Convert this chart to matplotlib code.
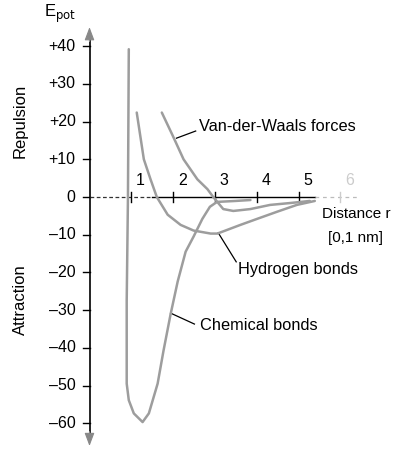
import matplotlib
matplotlib.use("Agg")
import matplotlib.pyplot as plt

plt.rcParams['font.family'] = ['Liberation Sans', 'DejaVu Sans']

# ---- data ----
y_ticks = [40, 30, 20, 10, 0, -10, -20, -30, -40, -50, -60]
y_tick_labels = ["+40", "+30", "+20", "+10", "0", "\u201310", "\u201320", "\u201330", "\u201340", "\u201350", "\u201360"]
x_ticks = [1, 2, 3, 4, 5, 6]
x_tick_labels = ["1", "2", "3", "4", "5", "6"]

chem_r = [0.94, 0.93, 0.92, 0.89, 0.89, 0.94, 1.06, 1.27, 1.42, 1.63, 1.77, 1.94, 2.11, 2.30, 2.49, 2.70, 2.88, 3.05, 3.49, 3.85]
chem_e = [39.2, 19.7, 0.0, -27.6, -49.5, -53.9, -57.4, -59.7, -57.4, -49.5, -40.8, -31.1, -22.4, -14.5, -10.5, -5.8, -2.6, -1.3, -1.05, -0.8]

hyd_r = [1.13, 1.30, 1.46, 1.61, 1.87, 2.18, 2.49, 2.90, 3.06, 3.61, 4.01, 4.49, 4.96, 5.39]
hyd_e = [22.4, 10.0, 4.7, 0.0, -4.7, -7.4, -8.9, -9.7, -9.7, -7.4, -5.8, -3.9, -2.1, -1.05]

vdw_r = [1.73, 1.99, 2.25, 2.58, 2.82, 2.96, 3.20, 3.44, 3.85, 4.32, 4.80, 5.27]
vdw_e = [22.4, 16.3, 10.0, 4.7, 2.1, 0.0, -3.2, -3.7, -3.2, -2.1, -1.6, -1.05]

# ---- figure ----
fig = plt.figure(figsize=(4.03, 4.55), dpi=100)
ax = fig.add_axes([0, 0, 1, 1])
ax.set_xlim(-89.5 / 41.8, (403 - 89.5) / 41.8)
ax.set_ylim(-258 / 3.77, 197 / 3.77)
for s in ax.spines.values():
    s.set_visible(False)
ax.set_xticks([])
ax.set_yticks([])

curve_col = '#9d9d9d'
for r, e in [(chem_r, chem_e), (hyd_r, hyd_e), (vdw_r, vdw_e)]:
    ax.plot(r, e, color=curve_col, lw=1.8, solid_capstyle='round', zorder=3)

# y axis with arrows
ax.plot([0, 0], [-64.5, 43.5], color='black', lw=1.2, zorder=2)
ax.annotate('', xy=(0, 45.8), xytext=(0, 40.5),
            arrowprops=dict(arrowstyle='-|>,head_length=0.8,head_width=0.3',
                            color='#888888', lw=0.8), zorder=4)
ax.annotate('', xy=(0, -66.8), xytext=(0, -61.5),
            arrowprops=dict(arrowstyle='-|>,head_length=0.8,head_width=0.3',
                            color='#888888', lw=0.8), zorder=4)
for v, lab in zip(y_ticks, y_tick_labels):
    ax.plot([-0.15, 0], [v, v], color='black', lw=1.0)
    ax.text(-0.33, v, lab, ha='right', va='center', fontsize=11.5)

# x axis
ax.plot([0, 1.5], [0, 0], color='#333333', lw=0.9, ls=(0, (3, 2)), zorder=2)
ax.plot([1.5, 5.4], [0, 0], color='black', lw=1.0, zorder=2)
ax.plot([5.4, 6.4], [0, 0], color='#bbbbbb', lw=0.9, ls=(0, (3, 3)), zorder=2)
for v, lab in zip(x_ticks, x_tick_labels):
    c = 'black' if v < 6 else '#cccccc'
    ax.plot([v, v], [-1.3, 1.3], color=c, lw=1.0)
    ax.text(v + 0.22, 2.3, lab, ha='center', va='bottom', fontsize=11.5,
            color=c)

# labels
ax.text(-0.7, 48.5, r'E$_{\mathrm{pot}}$', ha='center', va='center', fontsize=12)
ax.text(-1.65, 20.2, 'Repulsion', rotation=90, ha='center', va='center', fontsize=12)
ax.text(-1.65, -27.3, 'Attraction', rotation=90, ha='center', va='center', fontsize=12)

ax.text(2.63, 18.8, 'Van-der-Waals forces', ha='left', va='center', fontsize=11.8)
ax.plot([2.08, 2.54], [15.6, 17.5], color='black', lw=0.9)

ax.text(5.56, -4.4, 'Distance r', ha='left', va='center', fontsize=11)
ax.text(5.7, -10.8, '[0,1 nm]', ha='left', va='center', fontsize=11)

ax.text(3.56, -19.1, 'Hydrogen bonds', ha='left', va='center', fontsize=11.8)
ax.plot([3.08, 3.51], [-9.5, -17.2], color='black', lw=0.9)

ax.text(2.65, -34.2, 'Chemical bonds', ha='left', va='center', fontsize=11.8)
ax.plot([1.94, 2.51], [-30.8, -33.7], color='black', lw=0.9)

fig.savefig('out.png', dpi=100, facecolor='white')
